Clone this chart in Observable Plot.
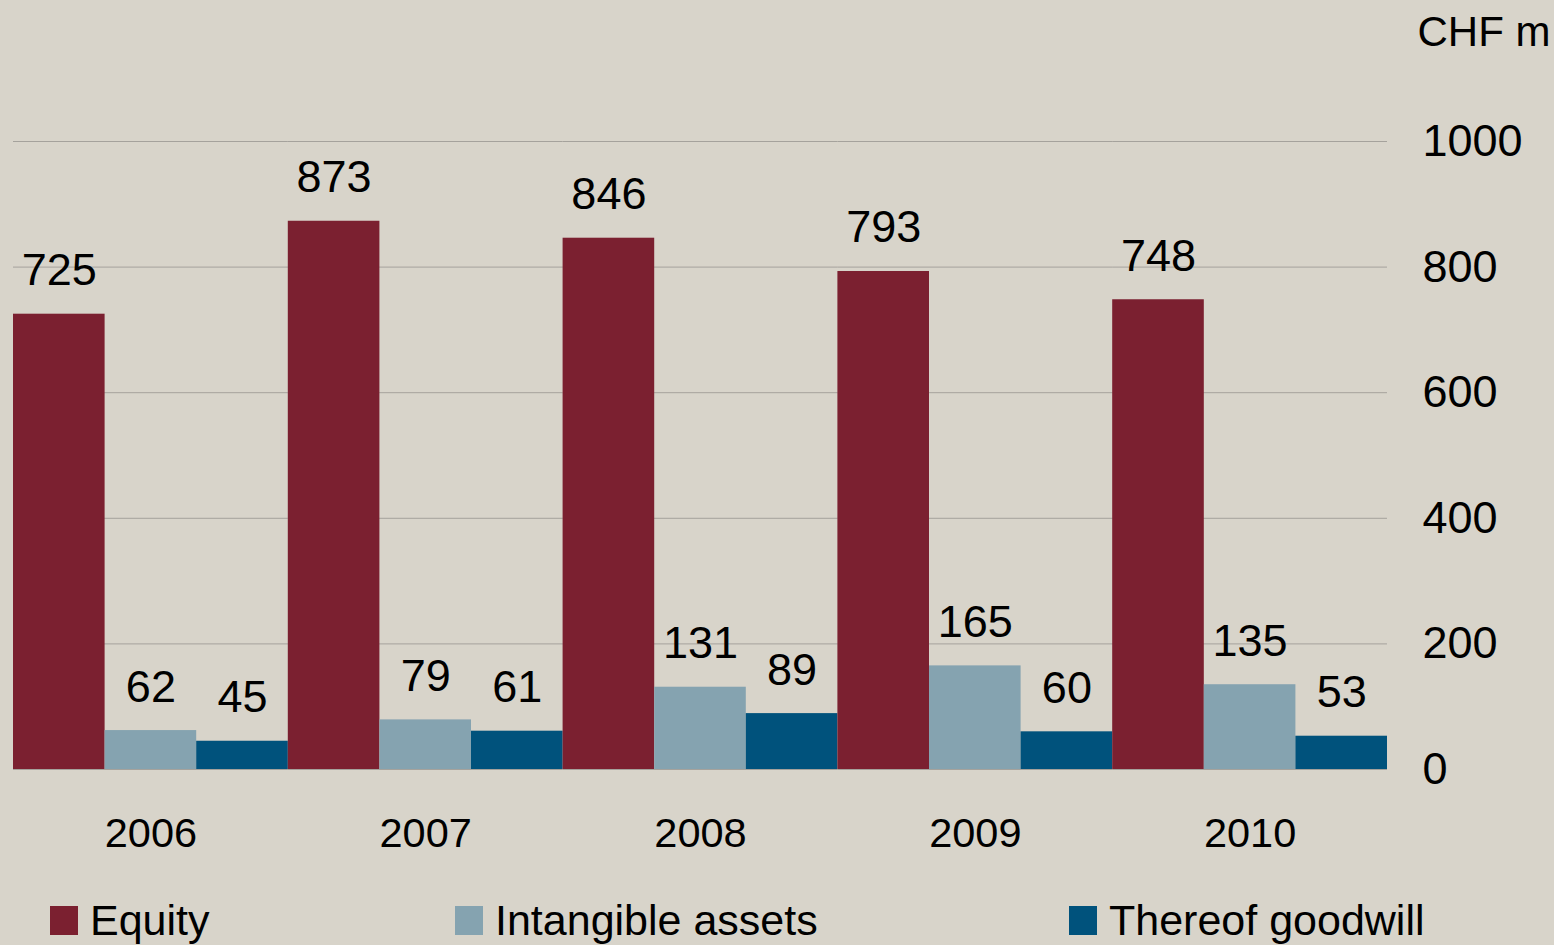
<!DOCTYPE html>
<html>
<head>
<meta charset="utf-8">
<script src="https://cdn.jsdelivr.net/npm/d3@7"></script>
<script src="https://cdn.jsdelivr.net/npm/@observablehq/plot@0.6"></script>
<style>
  html, body { margin: 0; padding: 0; background: #d8d4ca; }
  body { width: 1554px; height: 945px; overflow: hidden; font-family: "Liberation Sans", Arial, sans-serif; }
  #legend { position: relative; height: 65px; }
  .item { position: absolute; top: 8px; display: flex; align-items: center; height: 65px; font-size: 43px; color: #000; }
  .sw { width: 28px; height: 29px; margin-right: 12px; }
</style>
</head>
<body>
<div id="chart"></div>
<div id="legend"></div>
<script>
const years = ["2006", "2007", "2008", "2009", "2010"];
const series = ["Equity", "Intangible assets", "Thereof goodwill"];
const equity = [725, 873, 846, 793, 748];
const intangible = [62, 79, 131, 165, 135];
const goodwill = [45, 61, 89, 60, 53];
const colors = ["#7b2030", "#85a3b0", "#00527c"];
const yTicks = [0, 200, 400, 600, 800, 1000];
const unitLabel = "CHF m";

const values = [equity, intangible, goodwill];
const data = years.flatMap((year, i) =>
  series.map((s, j) => ({ year, series: s, value: values[j][i] }))
);

const chart = Plot.plot({
  width: 1554,
  height: 880,
  marginLeft: 13,
  marginRight: 167,
  marginTop: 141,
  marginBottom: 111,
  style: { background: "transparent", fontFamily: "'Liberation Sans', Arial, sans-serif", color: "#000" },
  fx: { domain: years, paddingInner: 0, paddingOuter: 0, round: false, label: null },
  x: { domain: series, paddingInner: 0, paddingOuter: 0, round: false, axis: null },
  y: { domain: [0, 1000], axis: null },
  color: { domain: series, range: colors },
  marks: [
    Plot.ruleY(yTicks, { stroke: "#a5a29c", strokeWidth: 1 }),
    Plot.barY(data, { fx: "year", x: "series", y: "value", fill: "series" }),
    Plot.text(data, { fx: "year", x: "series", y: "value", text: d => String(d.value), lineAnchor: "bottom", dy: -29, fontSize: 45, fill: "#000" }),
    Plot.axisY({ anchor: "right", ticks: yTicks, tickSize: 0, tickPadding: 35, fontSize: 45, tickFormat: d => String(d), label: null }),
    Plot.axisFx({ anchor: "bottom", tickSize: 0, tickPadding: 48, fontSize: 41.5, label: null }),
    Plot.text([{ year: years[years.length - 1] }], { fx: "year", text: () => unitLabel, frameAnchor: "top-right", dx: 163, dy: -109, textAnchor: "end", lineAnchor: "middle", fontSize: 42, fill: "#000" })
  ]
});
document.getElementById("chart").appendChild(chart);

const legendPos = [50, 455, 1069];
const legend = document.getElementById("legend");
series.forEach((s, i) => {
  const item = document.createElement("div");
  item.className = "item";
  item.style.left = legendPos[i] + "px";
  const sw = document.createElement("div");
  sw.className = "sw";
  sw.style.background = colors[i];
  const t = document.createElement("span");
  t.textContent = s;
  item.appendChild(sw);
  item.appendChild(t);
  legend.appendChild(item);
});
</script>
</body>
</html>
